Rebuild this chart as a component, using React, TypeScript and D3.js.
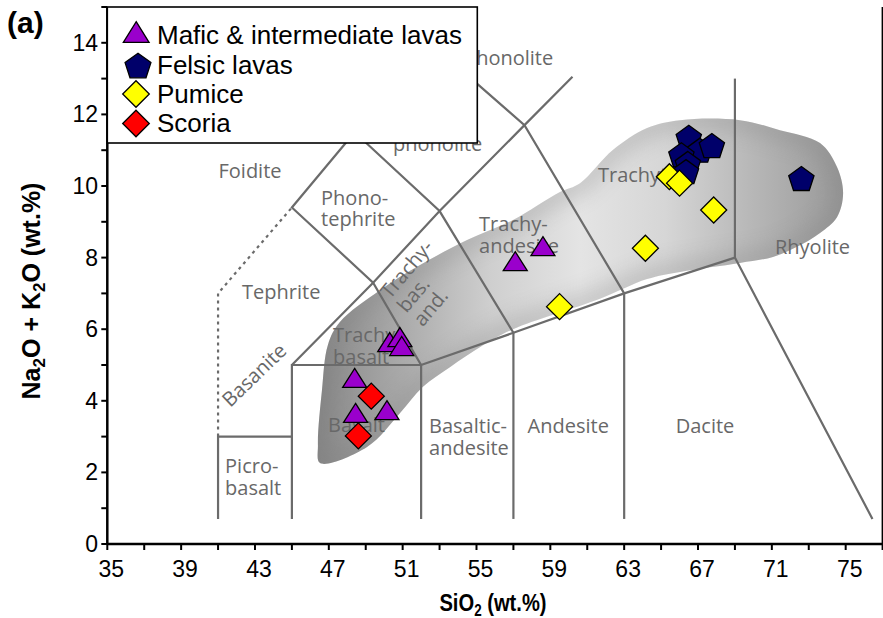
import React from "react";
import * as d3 from "d3";

const W = 883;
const H = 618;

// Sample compositions: SiO2 (wt.%) and Na2O + K2O (wt.%)
const maficSiO2 = [58.6, 57.1, 50.3, 50.85, 50.95, 48.4, 48.45, 50.15];
const maficAlk = [8.32, 7.9, 5.64, 5.78, 5.53, 4.64, 3.66, 3.74];
const felsicSiO2 = [66.5, 67.1, 67.75, 66.1, 66.45, 66.35, 72.6];
const felsicAlk = [11.36, 11.0, 11.13, 10.87, 10.63, 10.4, 10.21];
const pumiceSiO2 = [65.45, 66.0, 67.85, 64.15, 59.5];
const pumiceAlk = [10.26, 10.08, 9.33, 8.26, 6.63];
const scoriaSiO2 = [49.3, 48.6];
const scoriaAlk = [4.13, 3.02];

// Outline of the shaded compositional field
const fieldSiO2 = [46.53, 49.07, 50.86, 52.1, 53.56, 55.35, 56.98, 61.69, 64.24, 66.03, 69.27, 71.06, 72.36, 73.61, 74.53, 74.86, 74.53, 73.61, 71.44, 69.27, 66.03, 64.24, 62.4, 60.61, 59.52, 56.98, 54.49, 51.94, 49.77, 47.6, 46.95, 46.63, 46.41];
const fieldAlk = [2.26, 2.71, 3.66, 4.39, 4.94, 5.55, 6.0, 6.85, 7.4, 7.6, 7.85, 8.02, 8.3, 8.69, 9.13, 9.8, 10.53, 11.2, 11.56, 11.84, 11.84, 11.62, 11.01, 10.08, 9.83, 9.05, 8.49, 7.79, 7.09, 6.2, 5.56, 4.3, 2.77];

// TAS classification boundaries (SiO2, alkalis)
const tasSolid: [number, number][][] = [
  [[41, 0.7], [41, 3], [45, 3]],
  [[45, 0.7], [45, 5], [52, 5]],
  [[52, 0.7], [52, 5], [57, 5.9], [63, 7], [69, 8], [76.45, 0.7]],
  [[57, 0.7], [57, 5.9]],
  [[63, 0.7], [63, 7]],
  [[69, 8], [69, 13]],
  [[45, 5], [49.4, 7.3], [53, 9.3], [57.6, 11.7], [60.2, 13.05]],
  [[52, 5], [49.4, 7.3], [45, 9.4], [48.4, 11.5], [52.5, 14]],
  [[48.4, 11.5], [53, 9.3], [57, 5.9]],
  [[52.5, 14], [57.6, 11.7], [63, 7]],
];
const tasDotted: [number, number][] = [[41, 3], [41, 7], [45, 9.4]];

// Field names
const fieldNames = [
  { lines: ["Foidite"], si: 42.73, alk: 10.22, anchor: "middle", rot: 0 },
  { lines: ["Phono-", "tephrite"], si: 46.58, alk: 9.47, anchor: "start", rot: 0 },
  { lines: ["Tephrite"], si: 42.3, alk: 6.84, anchor: "start", rot: 0 },
  { lines: ["Trachy-", "basalt"], si: 47.23, alk: 5.64, anchor: "start", rot: 0 },
  { lines: ["Basalt"], si: 46.96, alk: 3.13, anchor: "start", rot: 0 },
  { lines: ["Picro-", "basalt"], si: 41.38, alk: 1.98, anchor: "start", rot: 0 },
  { lines: ["Basaltic-", "andesite"], si: 52.43, alk: 3.1, anchor: "start", rot: 0 },
  { lines: ["Andesite"], si: 57.77, alk: 3.1, anchor: "start", rot: 0 },
  { lines: ["Dacite"], si: 67.38, alk: 3.1, anchor: "middle", rot: 0 },
  { lines: ["Rhyolite"], si: 71.17, alk: 8.1, anchor: "start", rot: 0 },
  { lines: ["Trachyte"], si: 61.58, alk: 10.11, anchor: "start", rot: 0 },
  { lines: ["Trachy-", "andesite"], si: 55.14, alk: 8.73, anchor: "start", rot: 0 },
  { lines: ["Tephri-", "phonolite"], si: 50.48, alk: 11.58, anchor: "start", rot: 0 },
  { lines: ["Phonolite"], si: 54.33, alk: 13.38, anchor: "start", rot: 0 },
  { lines: ["Basanite"], si: 43.22, alk: 4.58, anchor: "middle", rot: -44 },
  { lines: ["Trachy-", "bas.", "and."], si: 50.31, alk: 6.82, anchor: "start", rot: -50 },
];

const legendLabels = ["Mafic & intermediate lavas", "Felsic lavas", "Pumice", "Scoria"];
const xTickValues = d3.range(35, 78, 2);
const xLabelValues = d3.range(35, 76, 4);
const yTickValues = d3.range(0, 16, 1);
const yLabelValues = d3.range(0, 15, 2);

const x = d3.scaleLinear().domain([35, 77]).range([107.3, 882.6]);
const y = d3.scaleLinear().domain([0, 15]).range([544, 7]);

const lineGen = d3.line<[number, number]>().x((d) => x(d[0])).y((d) => y(d[1]));
const fieldGen = d3
  .line<[number, number]>()
  .x((d) => x(d[0]))
  .y((d) => y(d[1]))
  .curve(d3.curveCatmullRomClosed.alpha(0.5));

function triangle(cx: number, cy: number, w: number, h: number) {
  return `M${cx},${cy - h / 2}L${cx + w / 2},${cy + h / 2}L${cx - w / 2},${cy + h / 2}Z`;
}
function diamond(cx: number, cy: number, r: number) {
  return `M${cx},${cy - r}L${cx + r},${cy}L${cx},${cy + r}L${cx - r},${cy}Z`;
}
function pentagon(cx: number, cy: number, R: number) {
  const c = cy + 0.095 * R;
  const pts = d3.range(5).map((k) => {
    const a = ((-90 + k * 72) * Math.PI) / 180;
    return [cx + R * Math.cos(a), c + R * Math.sin(a)];
  });
  return "M" + pts.map((p) => p.join(",")).join("L") + "Z";
}

const PURPLE = "#9a00cc";
const NAVY = "#00006a";
const YELLOW = "#ffff00";
const RED = "#ff0000";
const LINE = "#6b6b6b";
const LABEL = "#686868";
const SANS = "'Liberation Sans', Arial, sans-serif";
const FIELD_FONT = "'Open Sans', 'Noto Sans', sans-serif";

export default function App() {
  const fieldPts: [number, number][] = fieldSiO2.map((s, i) => [s, fieldAlk[i]]);
  const fieldPath = fieldGen(fieldPts) || "";
  const x0 = x(35);
  const y0 = y(0);

  return (
    <svg
      width={W}
      height={H}
      viewBox={`0 0 ${W} ${H}`}
      style={{ position: "absolute", left: 0, top: 0, background: "#fff" }}
    >
      <defs>
        <linearGradient id="fieldGrad" gradientUnits="userSpaceOnUse" x1={x(46.4)} y1={0} x2={x(74.9)} y2={0}>
          <stop offset="0" stopColor="#888" />
          <stop offset="0.15" stopColor="#a8a8a8" />
          <stop offset="0.33" stopColor="#cfcfcf" />
          <stop offset="0.5" stopColor="#e4e4e4" />
          <stop offset="0.66" stopColor="#d6d6d6" />
          <stop offset="0.82" stopColor="#b8b8b8" />
          <stop offset="1" stopColor="#999" />
        </linearGradient>
        <clipPath id="fieldClip">
          <path d={fieldPath} />
        </clipPath>
        <filter id="soft" x="-20%" y="-20%" width="140%" height="140%">
          <feGaussianBlur stdDeviation="10" />
        </filter>
      </defs>

      {/* shaded field */}
      <path d={fieldPath} fill="url(#fieldGrad)" />
      <g clipPath="url(#fieldClip)">
        <path d={fieldPath} fill="none" stroke="#7a7a7a" strokeWidth={22} opacity={0.28} filter="url(#soft)" />
      </g>

      {/* TAS boundaries */}
      {tasSolid.map((seg, i) => (
        <path key={i} d={lineGen(seg) || ""} fill="none" stroke={LINE} strokeWidth={2.2} strokeLinejoin="miter" />
      ))}
      <path d={lineGen(tasDotted) || ""} fill="none" stroke={LINE} strokeWidth={2.2} strokeDasharray="3,4" />

      {/* field names */}
      {fieldNames.map((f, i) => (
        <text
          key={i}
          transform={`translate(${x(f.si)},${y(f.alk)}) rotate(${f.rot})`}
          fontFamily={FIELD_FONT}
          fontSize={20}
          fill={LABEL}
          textAnchor={f.anchor}
        >
          {f.lines.map((l, j) => (
            <tspan key={j} x={0} y={j * 21.5}>
              {l}
            </tspan>
          ))}
        </text>
      ))}

      {/* samples */}
      {maficSiO2.map((s, i) => (
        <path key={"m" + i} d={triangle(x(s), y(maficAlk[i]), 24, 19)} fill={PURPLE} stroke="#000" strokeWidth={1.3} />
      ))}
      {felsicSiO2.map((s, i) => (
        <path key={"f" + i} d={pentagon(x(s), y(felsicAlk[i]), 13.3)} fill={NAVY} stroke="#000" strokeWidth={1.3} />
      ))}
      {pumiceSiO2.map((s, i) => (
        <path key={"p" + i} d={diamond(x(s), y(pumiceAlk[i]), 13)} fill={YELLOW} stroke="#000" strokeWidth={1.3} />
      ))}
      {scoriaSiO2.map((s, i) => (
        <path key={"s" + i} d={diamond(x(s), y(scoriaAlk[i]), 13)} fill={RED} stroke="#000" strokeWidth={1.3} />
      ))}

      {/* axes */}
      <line x1={x0} x2={x(77)} y1={y0} y2={y0} stroke="#000" strokeWidth={2.5} />
      <line x1={x0} x2={x0} y1={y(15)} y2={y0} stroke="#000" strokeWidth={2.5} />
      <line x1={x(77)} x2={x(77)} y1={y(15)} y2={y0} stroke="#000" strokeWidth={2} />
      {xTickValues.map((v) => (
        <line key={"xt" + v} x1={x(v)} x2={x(v)} y1={y0} y2={y0 + 6} stroke="#000" strokeWidth={2} />
      ))}
      {xLabelValues.map((v) => (
        <text key={"xl" + v} x={x(v) + 4} y={577} textAnchor="middle" fontFamily={SANS} fontSize={23} fill="#000">
          {v}
        </text>
      ))}
      {yTickValues.map((v) => (
        <line key={"yt" + v} x1={x0 - 6} x2={x0} y1={y(v)} y2={y(v)} stroke="#000" strokeWidth={2} />
      ))}
      {yLabelValues.map((v) => (
        <text key={"yl" + v} x={98} y={y(v) + 8} textAnchor="end" fontFamily={SANS} fontSize={23} fill="#000">
          {v}
        </text>
      ))}

      {/* axis titles */}
      <text
        transform="translate(493,611) scale(0.84,1)"
        textAnchor="middle"
        fontFamily={SANS}
        fontWeight="bold"
        fontSize={24}
        fill="#000"
      >
        SiO<tspan dy={5} fontSize={16}>2</tspan>
        <tspan dy={-5}> (wt.%)</tspan>
      </text>
      <text
        transform={`translate(40,${291}) rotate(-90)`}
        textAnchor="middle"
        fontFamily={SANS}
        fontWeight="bold"
        fontSize={25}
        fill="#000"
      >
        Na<tspan dy={5} fontSize={17}>2</tspan>
        <tspan dy={-5}>O + K</tspan>
        <tspan dy={5} fontSize={17}>2</tspan>
        <tspan dy={-5}>O (wt.%)</tspan>
      </text>
      <text x={7} y={33} fontFamily={SANS} fontWeight="bold" fontSize={30} fill="#000">
        (a)
      </text>

      {/* legend */}
      <rect x={x0} y={7} width={370} height={136} fill="#fff" stroke="#000" strokeWidth={1.6} />
      <path d={triangle(136.2, 32, 25.7, 20.6)} fill={PURPLE} stroke="#000" strokeWidth={1.3} />
      <path d={pentagon(138, 65.5, 13.6)} fill={NAVY} stroke="#000" strokeWidth={1.3} />
      <path d={diamond(136, 94, 13.3)} fill={YELLOW} stroke="#000" strokeWidth={1.3} />
      <path d={diamond(136, 123.5, 13.3)} fill={RED} stroke="#000" strokeWidth={1.3} />
      {legendLabels.map((l, i) => (
        <text key={l} x={157} y={44.3 + i * 29.3} fontFamily={SANS} fontSize={26} fill="#000">
          {l}
        </text>
      ))}
    </svg>
  );
}
